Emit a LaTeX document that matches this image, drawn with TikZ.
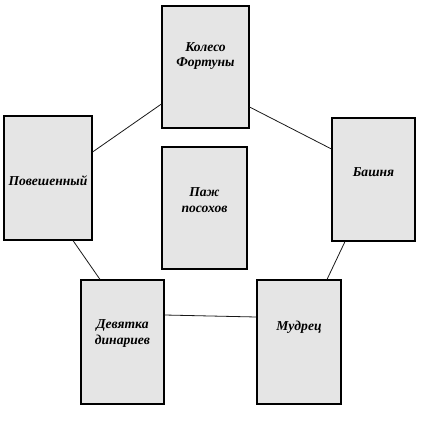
\documentclass[tikz,border=0pt]{standalone}
\usepackage{fontspec}
\setmainfont{Liberation Serif}
\begin{document}
\begin{tikzpicture}[x=1pt,y=-1pt,
  card/.style={draw=black,line width=1.1pt,fill=black!10,inner sep=0pt},
  lbl/.style={font=\fontsize{13.6}{15.5}\selectfont\bfseries\itshape,align=center,inner sep=0pt},
  link/.style={draw=black!90,line width=0.8pt}]
\useasboundingbox (0,0) rectangle (420,433);
\node[card,minimum width=87pt,minimum height=122pt] (T) at (205.5,67) {};
\node[card,minimum width=88pt,minimum height=124pt] (L) at (48,178) {};
\node[card,minimum width=83pt,minimum height=123pt] (R) at (373.5,179.5) {};
\node[card,minimum width=85pt,minimum height=122pt] (C) at (204.5,208) {};
\node[card,minimum width=83pt,minimum height=124pt] (BL) at (122.5,342) {};
\node[card,minimum width=84pt,minimum height=124pt] (BR) at (299,342) {};
\node[lbl] (tT) at (205.5,56) {Колесо\\Фортуны};
\node[lbl] (tL) at (48,181) {Повешенный};
\node[lbl] (tR) at (373.5,172) {Башня};
\node[lbl] (tC) at (204.5,200) {Паж\\посохов};
\node[lbl] (tBL) at (122.5,333.5) {Девятка\\динариев};
\node[lbl] (tBR) at (299,327) {Мудрец};
\draw[link] ([yshift=26pt]L.east) -- ([yshift=-37pt]T.west);
\draw[link] ([yshift=-40pt]T.east) -- ([yshift=30.5pt]R.west);
\draw[link] ([xshift=25pt]L.south) -- ([xshift=-22.5pt]BL.north);
\draw[link] ([xshift=-28.5pt]R.south) -- ([xshift=28pt]BR.north);
\draw[link] ([yshift=27pt]BL.east) -- ([yshift=25pt]BR.west);
\end{tikzpicture}
\end{document}
